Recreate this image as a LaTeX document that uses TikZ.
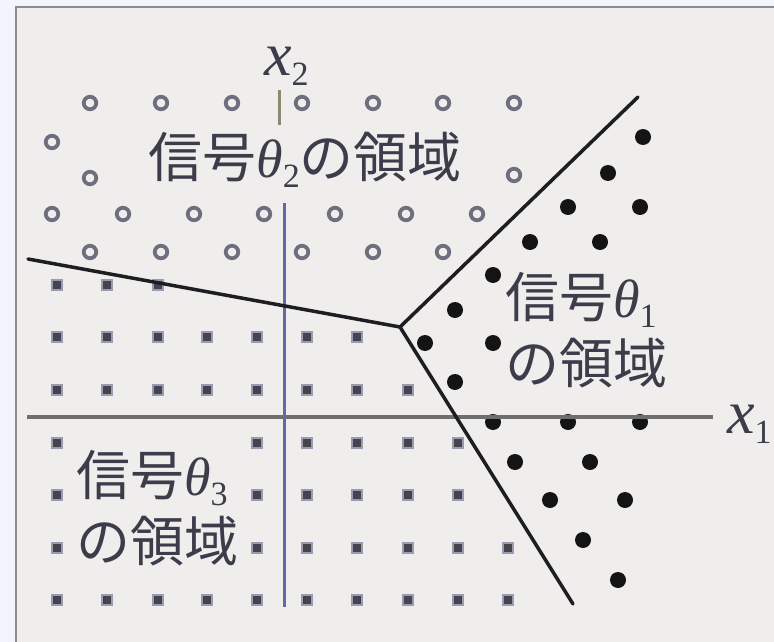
\documentclass[tikz,border=0pt]{standalone}
\usepackage{fontspec}
\newfontfamily\cjk{Noto Sans CJK JP}
\newfontfamily\gr{Liberation Serif}
\definecolor{outerbg}{HTML}{F3F4FC}
\definecolor{pagebg}{HTML}{EFEEEC}
\definecolor{framegray}{HTML}{8C8C8C}
\definecolor{ringgray}{HTML}{6E6E7E}
\definecolor{sqcore}{HTML}{44444F}
\definecolor{sqhalo}{HTML}{9A9AB0}
\definecolor{axisgray}{HTML}{6E6E6E}
\definecolor{axisblue}{HTML}{6868A0}
\definecolor{axisshort}{HTML}{8A8A72}
\definecolor{linedark}{HTML}{1E1E22}
\definecolor{textdark}{HTML}{3C3C4A}
\newcommand\mysub[1]{\raisebox{-10pt}{\gr\upshape\fontsize{34}{34}\selectfont #1}}
\newcommand\mytheta[1]{{\gr\itshape θ}\mysub{#1}}
\begin{document}
\begin{tikzpicture}[x=1pt,y=-1pt,
  ring/.style={circle,draw=ringgray,line width=3.8pt,minimum size=12.5pt,inner sep=0pt},
  bdot/.style={circle,fill=black!92,minimum size=16pt,inner sep=0pt},
  sqr/.style={rectangle,fill=sqcore,draw=sqhalo,line width=1.8pt,minimum size=10pt,inner sep=0pt},
  lab/.style={text=textdark,font=\cjk\fontsize{54}{66}\selectfont,inner sep=0pt},
  axlab/.style={text=textdark,font=\gr\fontsize{62}{62}\selectfont,inner sep=0pt},
  bound/.style={draw=linedark,line width=3.5pt,line cap=round},
]
\useasboundingbox (0,0) rectangle (774,642);
\fill[outerbg] (0,0) rectangle (774,642);
\fill[pagebg] (16,7) rectangle (774,642);
\draw[framegray,line width=2.2pt] (16,642) -- (16,7) -- (774,7);

% open circles (signal theta_2)
\foreach \p [count=\i] in {(90,103),(161,103),(232,103),(302,103),(373,103),(443,103),(514,103),
  (52,142),(90,178),(514,175),
  (52,214),(123,214),(194,214),(264,214),(335,214),(406,214),(477,214),
  (90,252),(161,252),(232,252),(302,252),(373,252),(443,252)}
  \node[ring] (o\i) at \p {};

% black dots (signal theta_1)
\foreach \p [count=\i] in {(643,137),(608,173),(568,207),(640,207),(530,242),(600,242),
  (493,275),(455,310),(425,343),(493,343),(455,382),(493,422),(568,422),(640,422),
  (515,462),(590,462),(550,500),(625,500),(583,540),(618,580)}
  \node[bdot] (b\i) at \p {};

% squares (signal theta_3)
\foreach \p [count=\i] in {(57,285),(107,285),(158,285),
  (57,337),(107,337),(158,337),(207,337),(257,337),(307,337),(357,337),
  (57,390),(107,390),(158,390),(207,390),(257,390),(307,390),(357,390),(408,390),
  (57,443),(257,443),(307,443),(357,443),(408,443),(458,443),
  (57,495),(257,495),(307,495),(357,495),(408,495),(458,495),
  (57,548),(257,548),(307,548),(357,548),(408,548),(458,548),(508,548),
  (57,600),(107,600),(158,600),(207,600),(257,600),(307,600),(357,600),(408,600),(458,600),(508,600)}
  \node[sqr] (s\i) at \p {};

% axes
\coordinate (x1l) at (27,417);
\coordinate (x1r) at (713,417);
\coordinate (x2t) at (284,203);
\coordinate (x2b) at (284,607);
\coordinate (x2st) at (279,90);
\coordinate (x2sb) at (279,125);
\draw[axisgray,line width=4.5pt] (x1l) -- (x1r);
\draw[axisblue,line width=3pt] (x2t) -- (x2b);
\draw[axisshort,line width=3pt] (x2st) -- (x2sb);

% decision boundaries
\coordinate (c) at (400,327);
\coordinate (ea) at (28,259);
\coordinate (eb) at (638,97);
\coordinate (ed) at (573,604);
\draw[bound] (ea) -- (c);
\draw[bound] (c) -- (eb);
\draw[bound] (c) -- (ed);

% labels
\node[axlab,anchor=base west] (lx1) at (727,433) {\itshape x\mysub{1}};
\node[axlab,anchor=base west] (lx2) at (264,75) {\itshape x\mysub{2}};
\node[lab] (t2) at (305,160) {信号\mytheta{2}の領域};
\node[lab,align=left,anchor=west] (t1) at (505,330) {信号\mytheta{1}\\の領域};
\node[lab,align=left,anchor=west] (t3) at (76,508) {信号\mytheta{3}\\の領域};
\end{tikzpicture}
\end{document}
